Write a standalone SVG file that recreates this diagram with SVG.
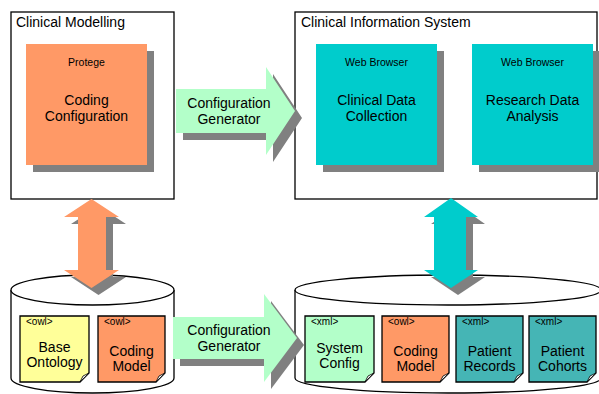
<svg xmlns="http://www.w3.org/2000/svg" width="599" height="394" viewBox="0 0 599 394">
<defs>
<style>
text{font-family:"Liberation Sans",Arial,sans-serif;fill:#000}
.frame{fill:#fff;stroke:#000;stroke-width:1.3}
.shadow{fill:#808080}
.orange{fill:#FF9966}
.cyan{fill:#00CCCC}
.green{fill:#B3FFC9}
.doc{stroke:#000;stroke-width:1.3}
.fold{fill:#f4f4f4;stroke:#000;stroke-width:0.8}
.title{font-size:14px}
.small{font-size:10.5px}
.big{font-size:14px;text-anchor:middle}
.tag{font-size:10px}
.mid{text-anchor:middle}
.cyl{fill:#fff;stroke:#000;stroke-width:1.3}
</style>
</defs>

<g id="clinical-modelling">
<rect class="frame" x="11" y="12" width="163" height="187"/>
<text class="title" x="16" y="27">Clinical Modelling</text>
</g>
<g id="coding-configuration">
<rect class="shadow" x="33" y="51" width="121" height="121"/>
<rect class="orange" x="26" y="44" width="121" height="121"/>
<text class="small mid" x="86.5" y="66">Protege</text>
<text class="big" x="86.5" y="105">Coding</text>
<text class="big" x="86.5" y="121">Configuration</text>
</g>

<g id="clinical-information-system">
<rect class="frame" x="295" y="12" width="302" height="187"/>
<text class="title" x="301" y="27">Clinical Information System</text>
</g>
<g id="clinical-data-collection">
<rect class="shadow" x="323" y="51" width="121" height="121"/>
<rect class="cyan" x="316" y="44" width="121" height="121"/>
<text class="small mid" x="376.5" y="66">Web Browser</text>
<text class="big" x="376.5" y="105">Clinical Data</text>
<text class="big" x="376.5" y="121">Collection</text>
</g>
<g id="research-data-analysis">
<rect class="shadow" x="479" y="51" width="121" height="121"/>
<rect class="cyan" x="472" y="44" width="121" height="121"/>
<text class="small mid" x="532.5" y="66">Web Browser</text>
<text class="big" x="532.5" y="105">Research Data</text>
<text class="big" x="532.5" y="121">Analysis</text>
</g>

<g id="modelling-store">
<path class="cyl" d="M11 290 V378 A81.5 15 0 0 0 174 378 V290"/>
<ellipse class="cyl" cx="92.5" cy="290" rx="81.5" ry="15"/>
</g>
<g id="base-ontology">
<path class="doc" fill="#FFFF99" d="M20 316 H89 V373 L80 382 H20 Z"/>
<path class="fold" d="M89 373 L80 382 L83 376 Z"/>
<text class="tag" x="26" y="325">&lt;owl&gt;</text>
<text class="big" x="54.5" y="352">Base</text>
<text class="big" x="54.5" y="367">Ontology</text>
</g>
<g id="coding-model-left">
<path class="doc" fill="#FF9966" d="M98 316 H165 V373 L156 382 H98 Z"/>
<path class="fold" d="M165 373 L156 382 L159 376 Z"/>
<text class="tag" x="104" y="325">&lt;owl&gt;</text>
<text class="big" x="131.5" y="355.5">Coding</text>
<text class="big" x="131.5" y="370.5">Model</text>
</g>

<g id="information-store">
<path class="cyl" d="M295 290 V378 A153 15 0 0 0 601 378 V290"/>
<ellipse class="cyl" cx="448" cy="290" rx="153" ry="15"/>
</g>
<g id="system-config">
<path class="doc" fill="#B3FFC9" d="M305 316 H374 V373 L365 382 H305 Z"/>
<path class="fold" d="M374 373 L365 382 L368 376 Z"/>
<text class="tag" x="311" y="325">&lt;xml&gt;</text>
<text class="big" x="339.5" y="353">System</text>
<text class="big" x="339.5" y="368">Config</text>
</g>
<g id="coding-model-right">
<path class="doc" fill="#FF9966" d="M382 316 H449 V373 L440 382 H382 Z"/>
<path class="fold" d="M449 373 L440 382 L443 376 Z"/>
<text class="tag" x="388" y="325">&lt;owl&gt;</text>
<text class="big" x="415.5" y="355.5">Coding</text>
<text class="big" x="415.5" y="370.5">Model</text>
</g>
<g id="patient-records">
<path class="doc" fill="#45B5B5" d="M456 316 H523 V373 L514 382 H456 Z"/>
<path class="fold" d="M523 373 L514 382 L517 376 Z"/>
<text class="tag" x="462" y="325">&lt;xml&gt;</text>
<text class="big" x="489.5" y="355.5">Patient</text>
<text class="big" x="489.5" y="370.5">Records</text>
</g>
<g id="patient-cohorts">
<path class="doc" fill="#45B5B5" d="M529 316 H596 V373 L587 382 H529 Z"/>
<path class="fold" d="M596 373 L587 382 L590 376 Z"/>
<text class="tag" x="535" y="325">&lt;xml&gt;</text>
<text class="big" x="562.5" y="355.5">Patient</text>
<text class="big" x="562.5" y="370.5">Cohorts</text>
</g>

<g id="connectors">
<g id="top-generator">
<path class="shadow" d="M183 96 H273 V74 L302 118 L273 162 V140 H183 Z"/>
<path class="green" d="M176 89 H266 V67 L295 111 L266 155 V133 H176 Z"/>
<text class="title mid" x="229" y="108">Configuration</text>
<text class="title mid" x="229" y="124">Generator</text>
</g>
<g id="bottom-generator">
<path class="shadow" d="M180 324 H271 V301 L304 345 L271 389 V366 H180 Z"/>
<path class="green" d="M173 317 H264 V294 L297 338 L264 382 V359 H173 Z"/>
<text class="title mid" x="229" y="335">Configuration</text>
<text class="title mid" x="229" y="351">Generator</text>
</g>
<g id="modelling-link">
<path class="shadow" d="M98.5 206 L126 224 H113 V277 H126 L98.5 295 L71 277 H85 V224 H71 Z"/>
<path class="orange" d="M91.5 199 L119 217 H106 V270 H119 L91.5 288 L64 270 H78 V217 H64 Z"/>
</g>
<g id="information-link">
<path class="shadow" d="M458 205 L485 224 H473 V277 H485 L458 295 L431 277 H441 V224 H431 Z"/>
<path class="cyan" d="M451 198 L478 217 H466 V270 H478 L451 288 L424 270 H434 V217 H424 Z"/>
</g>
</g>
</svg>
